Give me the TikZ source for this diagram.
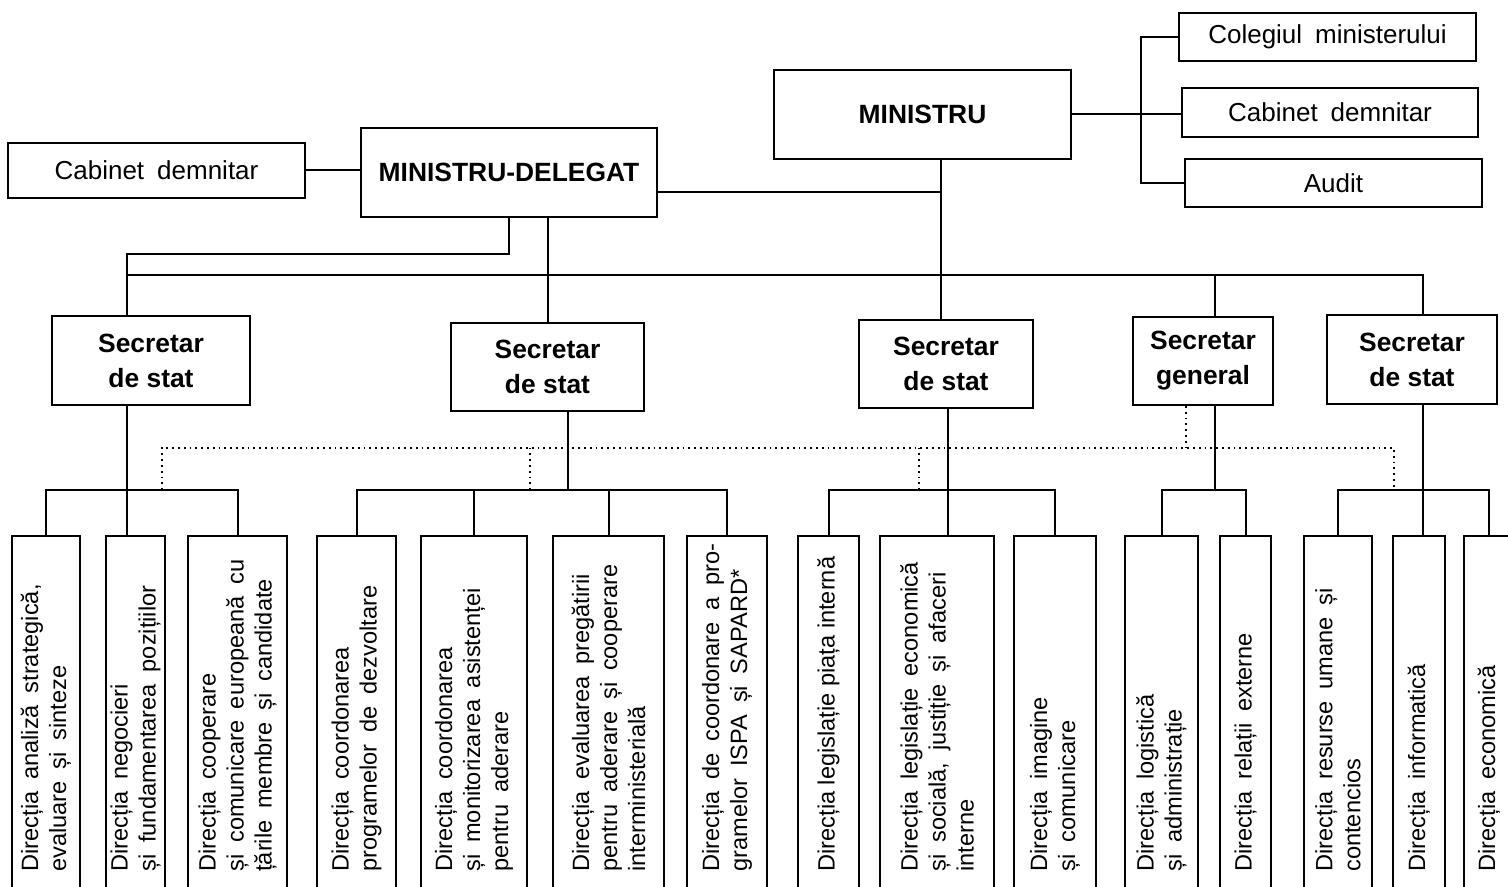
\documentclass[tikz,border=0pt]{standalone}
\usepackage{fontspec}
\setmainfont{Liberation Sans}
\newcommand\widespace{\spaceskip=0.5em\relax}

\begin{document}
\begin{tikzpicture}[
    x=0.5pt, y=-0.5pt,
    link/.style={line width=1pt},
    dotlink/.style={dotted, line width=0.9pt},
    office/.style={rectangle, draw, line width=1pt, font=\fontsize{13}{16}\selectfont\widespace},
    head/.style={rectangle, draw, line width=1pt, align=center, font=\fontsize{13.2}{17.5}\selectfont\bfseries},
    dirbox/.style={rectangle, draw, line width=1pt, anchor=north, minimum height=200pt},
    dirtext/.style={rotate=90, anchor=west, align=left, inner sep=0pt, font=\fontsize{11.8}{14}\selectfont\widespace}
]
\useasboundingbox (0,0) rectangle (1508,887);
\clip (0,0) rectangle (1508,887);

% Leadership
\node[office, minimum width=148.5pt, minimum height=27.5pt] (cabL) at (156.5,170.5) {Cabinet demnitar};
\node[head, minimum width=148pt, minimum height=44.5pt] (md) at (509,172.5) {MINISTRU-DELEGAT};
\node[head, minimum width=148.5pt, minimum height=44.5pt] (min) at (922.5,114.5) {MINISTRU};
\node[office, minimum width=148.5pt, minimum height=24pt] (col) at (1327.5,37) {Colegiul ministerului};
\node[office, minimum width=148pt, minimum height=24.5pt] (cabR) at (1330,112.5) {Cabinet demnitar};
\node[office, minimum width=148.5pt, minimum height=24pt] (audit) at (1333.5,183) {Audit};

% Secretaries
\node[head, minimum width=99pt, minimum height=44.5pt] (s1) at (151,360.5) {Secretar\\de stat};
\node[head, minimum width=96.5pt, minimum height=44pt] (s2) at (547.5,367) {Secretar\\de stat};
\node[head, minimum width=87pt, minimum height=44pt] (s3) at (946,364) {Secretar\\de stat};
\node[head, minimum width=70pt, minimum height=44pt] (sg) at (1203,361) {Secretar\\general};
\node[head, minimum width=85pt, minimum height=44.5pt] (s5) at (1412,359.5) {Secretar\\de stat};

% Directions
\coordinate (base) at (0,872);
\node[dirbox, minimum width=34pt] (d1) at (46,535) {};
\node[dirbox, minimum width=29.5pt] (d2) at (135.5,535) {};
\node[dirbox, minimum width=49.5pt] (d3) at (237.5,535) {};
\node[dirbox, minimum width=39.5pt] (d4) at (356.5,535) {};
\node[dirbox, minimum width=53pt] (d5) at (474,535) {};
\node[dirbox, minimum width=55.5pt] (d6) at (608.5,535) {};
\node[dirbox, minimum width=40pt] (d7) at (727,535) {};
\node[dirbox, minimum width=30.5pt] (d8) at (828.5,535) {};
\node[dirbox, minimum width=57pt] (d9) at (937,535) {};
\node[dirbox, minimum width=41pt] (d10) at (1055,535) {};
\node[dirbox, minimum width=36.5pt] (d11) at (1161.5,535) {};
\node[dirbox, minimum width=25.5pt] (d12) at (1245.5,535) {};
\node[dirbox, minimum width=34pt] (d13) at (1338,535) {};
\node[dirbox, minimum width=26pt] (d14) at (1419,535) {};
\node[dirbox, minimum width=25pt] (d15) at (1489,535) {};

\node[dirtext] (t1) at (d1.north |- base) {Direcția analiză strategică,\\evaluare și sinteze};
\node[dirtext] (t2) at (d2.north |- base) {Direcția negocieri\\și fundamentarea pozițiilor};
\node[dirtext] (t3) at (d3.north |- base) {Direcția cooperare\\și comunicare europeană cu\\țările membre și candidate};
\node[dirtext] (t4) at (d4.north |- base) {Direcția coordonarea\\programelor de dezvoltare};
\node[dirtext] (t5) at (d5.north |- base) {Direcția coordonarea\\și monitorizarea asistenței\\pentru aderare};
\node[dirtext] (t6) at (d6.north |- base) {Direcția evaluarea pregătirii\\pentru aderare și cooperare\\interministerială};
\node[dirtext] (t7) at (d7.north |- base) {Direcția de coordonare a pro-\\gramelor ISPA și SAPARD*};
\node[dirtext] (t8) at (d8.north |- base) {\spaceskip=0pt Direcția legislație piața internă};
\node[dirtext] (t9) at (d9.north |- base) {Direcția legislație economică\\și socială, justiție și afaceri\\interne};
\node[dirtext] (t10) at (d10.north |- base) {Direcția imagine\\și comunicare};
\node[dirtext] (t11) at (d11.north |- base) {Direcția logistică\\și administrație};
\node[dirtext] (t12) at (d12.north |- base) {Direcția relații externe};
\node[dirtext] (t13) at (d13.north |- base) {Direcția resurse umane și\\contencios};
\node[dirtext] (t14) at (d14.north |- base) {Direcția informatică};
\node[dirtext] (t15) at (d15.north |- base) {Direcția economică};

% Bus lines
\coordinate (bus) at (0,490);
\coordinate (dots) at (0,448);
\coordinate (k1) at (127,275);
\coordinate (k2) at (548,275);
\coordinate (k3) at (941,275);
\coordinate (k4) at (1215,275);
\coordinate (k5) at (1423,275);
\coordinate (k2b) at (568,0);
\coordinate (k3b) at (948,0);
\coordinate (br) at (1141,0);
\coordinate (p1) at (162,0);
\coordinate (p2) at (530,0);
\coordinate (p3) at (919,0);
\coordinate (p4) at (1186,0);
\coordinate (p5) at (1394,0);

% Upper links
\draw[link] (cabL.east) -- (cabL.east -| md.west);
\draw[link] (md.south) -- ++(0,36) -| (k1);
\draw[link] (md.south -| k2) -- (k2 |- s2.north);
\draw[link] ([yshift=-10pt]md.east) -- ([yshift=-10pt]md.east -| k3);
\draw[link] (min.south -| k3) -- (k3 |- s3.north);
\draw[link] (min.east) -- (min.east -| cabR.west);
\draw[link] (col.west) -- (col.west -| br) -- (audit.west -| br) -- (audit.west);
\draw[link] (k1 |- s1.north) -- (k1) -- (k5) -- (k5 |- s5.north);
\draw[link] (k4) -- (k4 |- sg.north);

% Lower links
\draw[link] (s1.south -| k1) -- (k1 |- d2.north);
\draw[link] (d1.north) -- (d1.north |- bus) -- (d3.north |- bus) -- (d3.north);
\draw[link] (s2.south -| k2b) -- (k2b |- bus);
\draw[link] (d4.north) -- (d4.north |- bus) -- (d7.north |- bus) -- (d7.north)
    (d5.north) -- (d5.north |- bus) (d6.north) -- (d6.north |- bus);
\draw[link] (s3.south -| k3b) -- (k3b |- d9.north);
\draw[link] (d8.north) -- (d8.north |- bus) -- (d10.north |- bus) -- (d10.north);
\draw[link] (sg.south -| k4) -- (k4 |- bus);
\draw[link] (d11.north) -- (d11.north |- bus) -- (d12.north |- bus) -- (d12.north);
\draw[link] (s5.south -| k5) -- (k5 |- d14.north);
\draw[link] (d13.north) -- (d13.north |- bus) -- (d15.north |- bus) -- (d15.north);

% Coordination (dotted)
\draw[dotlink] (p1 |- bus) -- (p1 |- dots) -- (p5 |- dots) -- (p5 |- bus);
\draw[dotlink] (p2 |- bus) -- (p2 |- dots) (p3 |- bus) -- (p3 |- dots) (sg.south -| p4) -- (p4 |- dots);

\end{tikzpicture}
\end{document}
